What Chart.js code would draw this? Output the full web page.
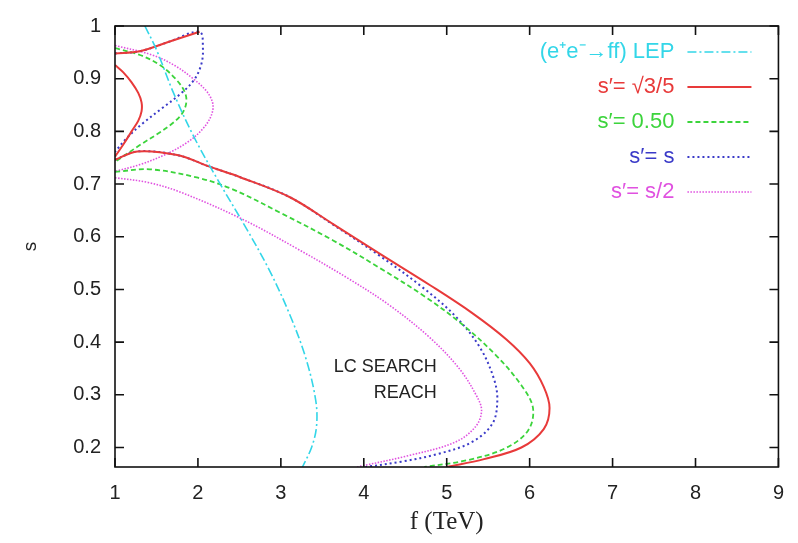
<!DOCTYPE html>
<html lang="en">
<head>
    <meta charset="UTF-8">
    <title>LC search reach</title>
    <script src="https://cdn.jsdelivr.net/npm/chart.js"></script>
    <style>
        body, html {
            margin: 0;
            background-color: #fff;
            overflow: hidden;
        }
        #reach {
            display: block;
        }
    </style>
</head>
<body>
<canvas id="reach" width="798" height="543"></canvas>
<script>
    // axis ticks
    const fTicks = [1, 2, 3, 4, 5, 6, 7, 8, 9];
    const sTicks = [0.2, 0.3, 0.4, 0.5, 0.6, 0.7, 0.8, 0.9, 1];

    // (e+e- -> ff) LEP bound
    const lepF = [1.36, 1.5, 1.7, 1.95, 2.25, 2.55, 2.85, 3.1, 3.3, 3.42, 3.43, 3.37, 3.26];
    const lepS = [1.0, 0.955, 0.875, 0.79, 0.705, 0.625, 0.54, 0.455, 0.37, 0.29, 0.24, 0.2, 0.163];

    // s' = sqrt(3/5), three pieces split by null
    const rootF = [1.0, 1.3, 1.65, 2.02, null,
        1.0, 1.1, 1.2, 1.28, 1.32, 1.32, 1.28, 1.2, 1.1, 1.0, null,
        1.0, 1.27, 1.75, 2.14, 2.51, 3.11, 3.63, 4.2, 4.8, 5.3, 5.72, 6.0, 6.17, 6.24, 6.17, 5.9, 5.45, 5.0];
    const rootS = [0.948, 0.952, 0.970, 0.989, null,
        0.926, 0.912, 0.893, 0.873, 0.855, 0.838, 0.82, 0.80, 0.775, 0.752, null,
        0.746, 0.762, 0.755, 0.733, 0.713, 0.675, 0.624, 0.567, 0.508, 0.456, 0.405, 0.36, 0.315, 0.275, 0.235, 0.2, 0.178, 0.163];

    // s' = 0.50
    const halfF = [1.0, 1.3, 1.55, 1.74, 1.84, 1.86, 1.81, 1.69, 1.52, 1.30, 1.0, null,
        1.0, 1.42, 2.0, 2.42, 3.0, 3.63, 4.2, 4.75, 5.2, 5.6, 5.9, 6.04, 5.98, 5.7, 5.25, 4.73];
    const halfS = [0.958, 0.945, 0.925, 0.898, 0.875, 0.855, 0.834, 0.815, 0.796, 0.774, 0.742, null,
        0.723, 0.728, 0.712, 0.690, 0.645, 0.593, 0.54, 0.485, 0.432, 0.374, 0.318, 0.275, 0.232, 0.198, 0.176, 0.163];

    // s' = s
    const sameF = [1.0, 1.3, 1.65, 2.02, 2.06, 2.04, 1.95, 1.78, 1.56, 1.34, 1.14, 1.0, null,
        1.0, 1.27, 1.75, 2.14, 2.51, 3.11, 3.63, 4.2, 4.7, 5.1, 5.4, 5.57, 5.61, 5.55, 5.3, 4.9, 4.45, 4.02];
    const sameS = [0.948, 0.952, 0.970, 0.989, 0.958, 0.927, 0.897, 0.87, 0.843, 0.816, 0.787, 0.761, null,
        0.746, 0.762, 0.755, 0.733, 0.713, 0.675, 0.623, 0.563, 0.505, 0.45, 0.39, 0.33, 0.288, 0.245, 0.21, 0.188, 0.173, 0.163];

    // s' = s/2
    const halfSF = [1.0, 1.45, 1.72, 1.95, 2.11, 2.18, 2.16, 2.06, 1.88, 1.62, 1.3, 1.0, null,
        1.0, 1.4, 1.8, 2.54, 3.2, 3.8, 4.31, 4.8, 5.15, 5.36, 5.42, 5.35, 5.1, 4.55, 3.92];
    const halfSS = [0.963, 0.945, 0.925, 0.899, 0.875, 0.852, 0.83, 0.805, 0.78, 0.757, 0.737, 0.724, null,
        0.712, 0.703, 0.684, 0.633, 0.577, 0.522, 0.470, 0.408, 0.350, 0.298, 0.27, 0.24, 0.21, 0.185, 0.163];

    const notes = [
        {text: 'LC SEARCH', f: 4.88, s: 0.352},
        {text: 'REACH', f: 4.88, s: 0.303}
    ];

    function toPoints(f, s) {
        return f.map((x, i) => ({x: x, y: s[i]}));
    }

    function curve(label, f, s, color, dash, width) {
        return {
            label: label,
            data: toPoints(f, s),
            showLine: true,
            borderColor: color,
            backgroundColor: color,
            borderWidth: width,
            borderDash: dash,
            pointRadius: 0,
            tension: 0.35,
            spanGaps: false
        };
    }

    // frame with inward ticks on all four sides
    const framePlugin = {
        id: 'frame',
        afterDatasetsDraw(chart) {
            const {ctx, chartArea: a, scales: {x, y}} = chart;
            const len = 9;
            ctx.save();
            ctx.strokeStyle = '#111';
            ctx.lineWidth = 1.6;
            ctx.strokeRect(a.left, a.top, a.right - a.left, a.bottom - a.top);
            ctx.beginPath();
            fTicks.forEach(v => {
                const px = x.getPixelForValue(v);
                ctx.moveTo(px, a.bottom); ctx.lineTo(px, a.bottom - len);
                ctx.moveTo(px, a.top); ctx.lineTo(px, a.top + len);
            });
            sTicks.forEach(v => {
                const py = y.getPixelForValue(v);
                ctx.moveTo(a.left, py); ctx.lineTo(a.left + len, py);
                ctx.moveTo(a.right, py); ctx.lineTo(a.right - len, py);
            });
            ctx.stroke();
            ctx.restore();
        }
    };

    // key in the top right corner, text right-aligned before its sample
    const keyPlugin = {
        id: 'key',
        afterDraw(chart) {
            const {ctx, chartArea: a} = chart;
            ctx.save();
            ctx.font = '22px "Liberation Sans", Arial, sans-serif';
            ctx.textAlign = 'right';
            ctx.textBaseline = 'middle';
            chart.data.datasets.forEach((ds, i) => {
                const yy = a.top + 26 + i * 35;
                ctx.fillStyle = ds.borderColor;
                ctx.fillText(ds.label, a.right - 104, yy);
                ctx.beginPath();
                ctx.strokeStyle = ds.borderColor;
                ctx.lineWidth = ds.borderWidth;
                ctx.setLineDash(ds.borderDash);
                ctx.moveTo(a.right - 91, yy);
                ctx.lineTo(a.right - 27, yy);
                ctx.stroke();
            });
            ctx.setLineDash([]);
            ctx.fillStyle = '#222';
            ctx.font = '18px "Liberation Sans", Arial, sans-serif';
            const {x, y} = chart.scales;
            notes.forEach(n => {
                ctx.fillText(n.text, x.getPixelForValue(n.f), y.getPixelForValue(n.s));
            });
            ctx.restore();
        }
    };

    const tickFont = {family: '"Liberation Sans", Arial, sans-serif', size: 20};

    new Chart(document.getElementById('reach'), {
        type: 'scatter',
        data: {
            datasets: [
                curve('(e\u207Ae\u207B\u2192ff) LEP', lepF, lepS, '#33d6e8', [9, 3, 2, 3], 1.6),
                curve('s\u2032= \u221A3/5', rootF, rootS, '#e83a3a', [], 2),
                curve('s\u2032= 0.50', halfF, halfS, '#3cd43c', [5, 3], 1.8),
                curve('s\u2032= s', sameF, sameS, '#3a3ac8', [2, 3], 2),
                curve('s\u2032= s/2', halfSF, halfSS, '#e052e0', [1.5, 1.5], 1.6)
            ]
        },
        options: {
            responsive: false,
            animation: false,
            layout: {padding: {top: 19, right: 19, left: 0, bottom: 0}},
            plugins: {
                legend: {display: false},
                tooltip: {enabled: false}
            },
            scales: {
                x: {
                    type: 'linear',
                    min: 1,
                    max: 9,
                    grid: {display: false, drawTicks: false},
                    border: {display: false},
                    afterBuildTicks: s => { s.ticks = fTicks.map(v => ({value: v})); },
                    afterFit: s => { s.height = 76; },
                    ticks: {color: '#222', font: tickFont, padding: 14, maxRotation: 0},
                    title: {
                        display: true,
                        text: 'f (TeV)',
                        color: '#222',
                        font: {family: '"Liberation Serif", "Times New Roman", serif', size: 25},
                        padding: {top: 0, bottom: 6}
                    }
                },
                y: {
                    type: 'linear',
                    min: 0.163,
                    max: 1,
                    grid: {display: false, drawTicks: false},
                    border: {display: false},
                    afterBuildTicks: s => { s.ticks = sTicks.map(v => ({value: v})); },
                    afterFit: s => { s.width = 115; },
                    ticks: {
                        color: '#222',
                        font: tickFont,
                        padding: 14,
                        callback: v => (v === 1 ? '1' : v.toFixed(1))
                    },
                    title: {
                        display: true,
                        text: 's',
                        color: '#222',
                        font: {family: '"Liberation Sans", Arial, sans-serif', size: 19},
                        padding: {top: 19, bottom: 0}
                    }
                }
            }
        },
        plugins: [framePlugin, keyPlugin]
    });
</script>
</body>
</html>
